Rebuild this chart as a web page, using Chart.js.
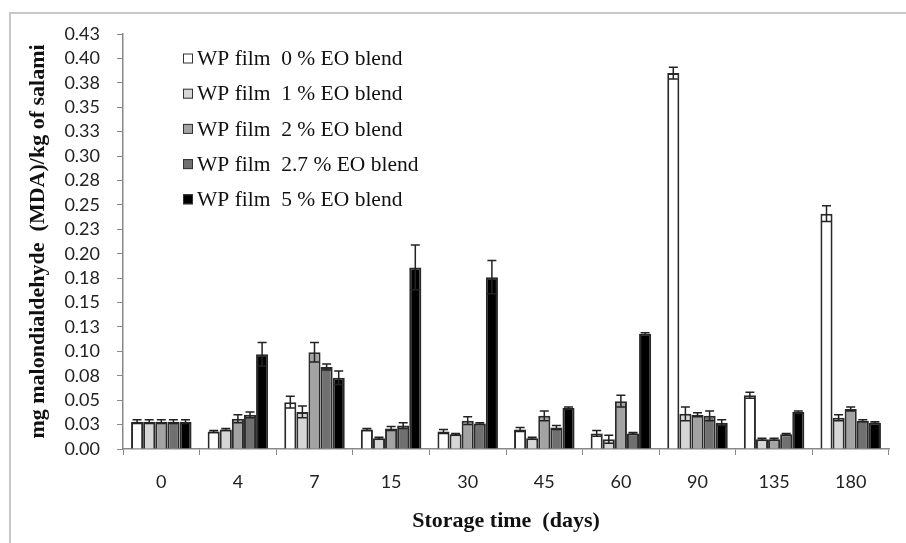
<!DOCTYPE html>
<html>
<head>
<meta charset="utf-8">
<script src="https://cdn.jsdelivr.net/npm/chart.js@4"></script>
<style>
  html, body { margin: 0; padding: 0; background: #fff; }
  #wrap { position: relative; width: 906px; height: 543px; }
  #frame { position: absolute; left: 9px; top: 12px; right: 0; bottom: 0;
           border-top: 2px solid #c8c8c8; border-left: 2px solid #c8c8c8; }
  canvas { position: absolute; left: 0; top: 0; }
</style>
</head>
<body>
<div id="wrap">
  <div id="frame"></div>
  <canvas id="chart" width="906" height="543"></canvas>
</div>
<script>
const days = ["0", "4", "7", "15", "30", "45", "60", "90", "135", "180"];
const seriesNames = [
  "WP film  0 % EO blend",
  "WP film  1 % EO blend",
  "WP film  2 % EO blend",
  "WP film  2.7 % EO blend",
  "WP film  5 % EO blend"
];

// MDA values (mg/kg)
const wp0 = [0.028, 0.018, 0.048, 0.020, 0.018, 0.020, 0.016, 0.385, 0.055, 0.241];
const wp1 = [0.028, 0.020, 0.038, 0.011, 0.015, 0.011, 0.010, 0.036, 0.010, 0.032];
const wp2 = [0.028, 0.031, 0.099, 0.021, 0.029, 0.034, 0.049, 0.035, 0.010, 0.041];
const wp27 = [0.028, 0.035, 0.084, 0.024, 0.026, 0.022, 0.016, 0.034, 0.015, 0.029];
const wp5 = [0.028, 0.097, 0.073, 0.186, 0.176, 0.042, 0.118, 0.027, 0.038, 0.027];

// error bars
const err0 = [0.002, 0.001, 0.006, 0.001, 0.002, 0.002, 0.003, 0.006, 0.003, 0.008];
const err1 = [0.002, 0.001, 0.006, 0.001, 0.001, 0.001, 0.004, 0.007, 0.001, 0.003];
const err2 = [0.002, 0.004, 0.010, 0.002, 0.004, 0.005, 0.006, 0.002, 0.001, 0.002];
const err27 = [0.002, 0.003, 0.003, 0.003, 0.001, 0.002, 0.001, 0.005, 0.001, 0.001];
const err5 = [0.002, 0.012, 0.007, 0.023, 0.017, 0.001, 0.001, 0.003, 0.001, 0.001];

const yTickLabels = ["0.00", "0.03", "0.05", "0.08", "0.10", "0.13", "0.15", "0.18", "0.20",
  "0.23", "0.25", "0.28", "0.30", "0.33", "0.35", "0.38", "0.40", "0.43"];

const fills = ["#ffffff", "#d6d6d6", "#a3a3a3", "#707070", "#000000"];
const values = [wp0, wp1, wp2, wp27, wp5];
const errors = [err0, err1, err2, err27, err5];

const errorBars = {
  id: "errorBars",
  afterDatasetsDraw(chart) {
    const ctx = chart.ctx;
    const y = chart.scales.y;
    ctx.save();
    ctx.strokeStyle = "#222";
    ctx.lineWidth = 1.5;
    chart.data.datasets.forEach((ds, i) => {
      const meta = chart.getDatasetMeta(i);
      meta.data.forEach((bar, j) => {
        const v = ds.data[j], e = ds.errors[j];
        const top = y.getPixelForValue(v + e);
        const bot = y.getPixelForValue(Math.max(0, v - e));
        const x = bar.x, w = 4.5;
        ctx.beginPath();
        ctx.moveTo(x, top); ctx.lineTo(x, bot);
        ctx.moveTo(x - w, top); ctx.lineTo(x + w, top);
        ctx.moveTo(x - w, bot); ctx.lineTo(x + w, bot);
        ctx.stroke();
      });
    });
    ctx.restore();
  }
};

const boxLegend = {
  id: "boxLegend",
  afterDraw(chart) {
    const ctx = chart.ctx;
    ctx.save();
    ctx.font = "21.5px 'Liberation Serif'";
    ctx.textBaseline = "middle";
    chart.data.datasets.forEach((ds, i) => {
      const cy = 58.5 + i * 35.2;
      ctx.fillStyle = ds.backgroundColor;
      ctx.fillRect(183, cy - 5, 10, 10);
      ctx.strokeStyle = "#333";
      ctx.lineWidth = 1;
      ctx.strokeRect(183.5, cy - 4.5, 9, 9);
      ctx.fillStyle = "#111";
      ctx.fillText(ds.label, 197, cy + 1);
    });
    ctx.restore();
  }
};

new Chart(document.getElementById("chart"), {
  type: "bar",
  data: {
    labels: days,
    datasets: seriesNames.map((name, i) => ({
      label: name,
      data: values[i],
      errors: errors[i],
      backgroundColor: fills[i],
      borderColor: "#2a2a2a",
      borderWidth: 2,
      categoryPercentage: 0.79,
      barPercentage: 1.0
    }))
  },
  options: {
    responsive: false,
    animation: false,
    layout: { padding: { top: 34, right: 17, bottom: 0, left: 0 } },
    plugins: {
      legend: { display: false },
      tooltip: { enabled: false }
    },
    scales: {
      x: {
        grid: { drawOnChartArea: false, color: "#888", tickLength: 6, offset: true },
        border: { color: "#888", width: 1.5 },
        ticks: { color: "#222", font: { family: "Lato", size: 18 }, padding: 16 },
        title: {
          display: true,
          text: "Storage time  (days)",
          color: "#111",
          font: { family: "Liberation Serif", size: 22, weight: "bold" },
          padding: { top: 0, bottom: 8 }
        },
        afterFit(scale) { scale.height = 94; }
      },
      y: {
        min: 0,
        max: 0.425,
        grid: { drawOnChartArea: false, color: "#888", tickLength: 6 },
        border: { color: "#888", width: 1.5 },
        ticks: {
          stepSize: 0.025,
          autoSkip: false,
          color: "#222",
          font: { family: "Lato", size: 18 },
          padding: 17,
          callback: (v, idx) => yTickLabels[idx]
        },
        title: {
          display: true,
          text: "mg malondialdehyde  (MDA)/kg of salami",
          color: "#111",
          font: { family: "Liberation Serif", size: 22, weight: "bold" },
          padding: { top: 25, bottom: 0 }
        },
        afterFit(scale) { scale.width = 123; }
      }
    }
  },
  plugins: [errorBars, boxLegend]
});
</script>
</body>
</html>
